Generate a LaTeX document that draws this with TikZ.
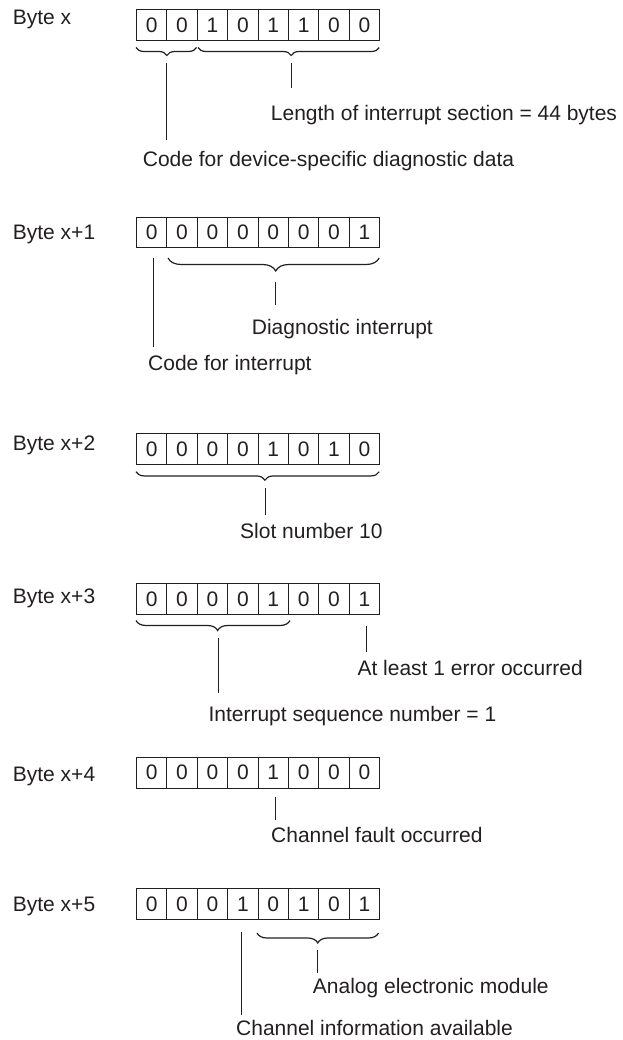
\documentclass[tikz,border=0pt]{standalone}
\usepackage{fontspec}
\setmainfont{Liberation Sans}
\usetikzlibrary{decorations.pathreplacing}
\definecolor{ink}{HTML}{231F20}
\newcommand\mybyterow[3]{%
  \foreach \b [count=\i from 0] in {#3} {
    \node[cell] (#1c\i) at ({136+30.4*\i},#2) {\b};
  }%
}
\begin{document}
\begin{tikzpicture}[x=1pt,y=-1pt,
  txt/.style={font=\fontsize{21}{25}\selectfont, text=ink},
  cell/.style={draw=ink, line width=0.9pt, minimum width=30.4pt, minimum height=30.8pt,
    inner sep=0pt, anchor=north west, txt},
  bytelabel/.style={anchor=base west, inner sep=0pt, txt},
  desc/.style={anchor=base west, inner sep=0pt, txt},
  lead/.style={draw=ink, line width=1pt},
  brc/.style={draw=ink, line width=1.2pt, decorate,
    decoration={brace, mirror, amplitude=#1}},
]
\useasboundingbox (0,0) rectangle (622,1040);

% ---------- Byte x ----------
\node[bytelabel] (lb0) at (12.7,25) {Byte x};
\mybyterow{r0}{9}{0,0,1,0,1,1,0,0}
\draw[brc=8pt, decoration={aspect=0.51}] (136,47.5) -- (196.5,47.5);
\draw[brc=8pt, decoration={aspect=0.514}] (198,47.5) -- (379.2,47.5);
\node[desc] (len) at (270.7,121) {Length of interrupt section = 44 bytes};
\node[desc] (cdd) at (142.7,167) {Code for device-specific diagnostic data};
\coordinate (a0s) at (166.7,63);  \coordinate (a0e) at (166.7,140);
\coordinate (b0s) at (291,63);    \coordinate (b0e) at (291,88);
\draw[lead] (a0s) -- (a0e);
\draw[lead] (b0s) -- (b0e);

% ---------- Byte x+1 ----------
\node[bytelabel] (lb1) at (12.7,240) {Byte x+1};
\mybyterow{r1}{216.7}{0,0,0,0,0,0,0,1}
\draw[brc=13pt, decoration={aspect=0.51}] (168,258) -- (379.2,258);
\node[desc] (dia) at (251.7,334.3) {Diagnostic interrupt};
\node[desc] (cfi) at (148,370.7) {Code for interrupt};
\coordinate (a1s) at (153,258);   \coordinate (a1e) at (153,347);
\coordinate (b1s) at (275.7,281.7); \coordinate (b1e) at (275.7,305);
\draw[lead] (a1s) -- (a1e);
\draw[lead] (b1s) -- (b1e);

% ---------- Byte x+2 ----------
\node[bytelabel] (lb2) at (12.7,450) {Byte x+2};
\mybyterow{r2}{433.3}{0,0,0,0,1,0,1,0}
\draw[brc=8.5pt, decoration={aspect=0.53}] (136,471.7) -- (379.2,471.7);
\node[desc] (slot) at (240,538) {Slot number 10};
\coordinate (a2s) at (265,488);   \coordinate (a2e) at (265,515);
\draw[lead] (a2s) -- (a2e);

% ---------- Byte x+3 ----------
\node[bytelabel] (lb3) at (12.7,603) {Byte x+3};
\mybyterow{r3}{583.3}{0,0,0,0,1,0,0,1}
\draw[brc=10pt, decoration={aspect=0.53}] (136,620.5) -- (290,620.5);
\node[desc] (err) at (357.3,675.7) {At least 1 error occurred};
\node[desc] (seq) at (208.3,721.7) {Interrupt sequence number = 1};
\coordinate (a3s) at (218.3,638); \coordinate (a3e) at (218.3,693);
\coordinate (b3s) at (366.7,626); \coordinate (b3e) at (366.7,651.7);
\draw[lead] (a3s) -- (a3e);
\draw[lead] (b3s) -- (b3e);

% ---------- Byte x+4 ----------
\node[bytelabel] (lb4) at (12.7,781.7) {Byte x+4};
\mybyterow{r4}{756.7}{0,0,0,0,1,0,0,0}
\node[desc] (chf) at (271,842) {Channel fault occurred};
\coordinate (a4s) at (275,797);   \coordinate (a4e) at (275,820);
\draw[lead] (a4s) -- (a4e);

% ---------- Byte x+5 ----------
\node[bytelabel] (lb5) at (12.7,911.7) {Byte x+5};
\mybyterow{r5}{888.3}{0,0,0,1,0,1,0,1}
\draw[brc=10pt, decoration={aspect=0.5}] (257,933) -- (378.5,933);
\node[desc] (ana) at (312.7,993) {Analog electronic module};
\node[desc] (chi) at (236,1035) {Channel information available};
\coordinate (a5s) at (241.7,931.7); \coordinate (a5e) at (241.7,1015);
\coordinate (b5s) at (317.7,950);   \coordinate (b5e) at (317.7,972.7);
\draw[lead] (a5s) -- (a5e);
\draw[lead] (b5s) -- (b5e);
\end{tikzpicture}
\end{document}
